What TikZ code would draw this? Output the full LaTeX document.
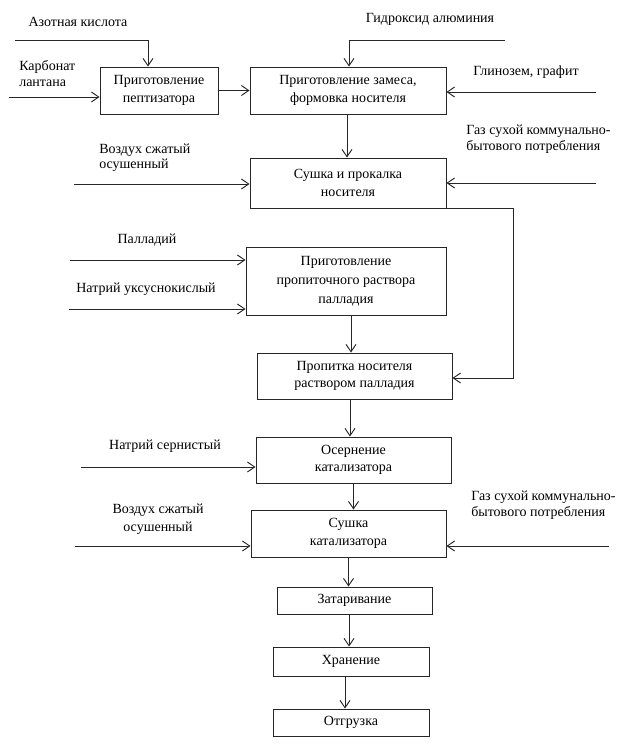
\documentclass[tikz,border=0pt]{standalone}
\usepackage{fontspec}
\setmainfont{Liberation Serif}
\usetikzlibrary{arrows.meta}
\begin{document}
\begin{tikzpicture}[x=0.75pt,y=-0.75pt,
  every node/.style={font=\fontsize{10.5}{12}\selectfont, inner sep=0pt},
  box/.style={draw=black!85, line width=0.7pt, align=center,
    font=\fontsize{10.5}{13}\selectfont},
  lbl/.style={align=center},
  lbll/.style={align=left, anchor=west},
  arr/.style={draw=black!85, line width=0.7pt,
    -{Straight Barb[length=5.5pt,width=7.5pt,line width=0.7pt]}},
  ln/.style={draw=black!85, line width=0.7pt}]
\useasboundingbox (0,0) rectangle (628,745);

% boxes
\node[box, minimum width=118*0.75pt, minimum height=47*0.75pt] (b1) at (159,90.5) {Приготовление\\пептизатора};
\node[box, minimum width=196*0.75pt, minimum height=47*0.75pt] (b2) at (348,90.5) {Приготовление замеса,\\формовка носителя};
\node[box, minimum width=196*0.75pt, minimum height=50*0.75pt] (b3) at (348,183) {Сушка и прокалка\\носителя};
\node[box, minimum width=200*0.75pt, minimum height=68*0.75pt, font=\fontsize{10.5}{14.2}\selectfont] (b4) at (346,281) {Приготовление\\пропиточного раствора\\палладия};
\node[box, minimum width=195*0.75pt, minimum height=46*0.75pt] (b5) at (354.5,376) {Пропитка носителя\\раствором палладия};
\node[box, minimum width=195*0.75pt, minimum height=46*0.75pt, font=\fontsize{10.5}{12.5}\selectfont] (b6) at (353.5,460) {Осернение\\катализатора};
\node[box, minimum width=195*0.75pt, minimum height=47*0.75pt] (b7) at (348.5,533.5) {Сушка\\катализатора};
\node[box, minimum width=155*0.75pt, minimum height=27*0.75pt] (b8) at (354.5,600.5) {Затаривание};
\node[box, minimum width=156*0.75pt, minimum height=29*0.75pt] (b9) at (351,661.5) {Хранение};
\node[box, minimum width=156*0.75pt, minimum height=27*0.75pt] (b10) at (351,722.5) {Отгрузка};

% labels
\node[lbl] (lazot) at (78,22) {Азотная кислота};
\node[lbll] (lkarb) at (19,73.5) {Карбонат\\лантана};
\node[lbl] (lgidr) at (430,19) {Гидроксид алюминия};
\node[lbl] (lglin) at (526,72) {Глинозем, графит};
\node[lbll, font=\fontsize{10.5}{11.5}\selectfont] (lvoz1) at (99,157.5) {Воздух сжатый\\осушенный};
\node[lbll] (lgaz1) at (466,139.5) {Газ сухой коммунально-\\бытового потребления};
\node[lbl] (lpall) at (147,240) {Палладий};
\node[lbl] (lnatu) at (146,289) {Натрий уксуснокислый};
\node[lbl] (lnats) at (165,446) {Натрий сернистый};
\node[lbl, font=\fontsize{10.5}{13.5}\selectfont] (lvoz2) at (158,519) {Воздух сжатый\\осушенный};
\node[lbll] (lgaz2) at (471,505) {Газ сухой коммунально-\\бытового потребления};

% input line start points
\coordinate (iazot) at (15,40);
\coordinate (ikarb) at (9,97);
\coordinate (igidr) at (505,40);
\coordinate (iglin) at (596,92);
\coordinate (ivoz1) at (74,184);
\coordinate (igaz1) at (596,183);
\coordinate (ipall) at (70,260);
\coordinate (inatu) at (69,309);
\coordinate (inats) at (81,467);
\coordinate (ivoz2) at (75,546);
\coordinate (igaz2) at (609,546);

% inputs
\draw[arr] (iazot) -| ([xshift=-8.25pt]b1.north);
\draw[arr] (ikarb) -- (ikarb -| b1.west);
\draw[arr] (igidr) -| ([xshift=0.75pt]b2.north);
\draw[arr] (iglin) -- (iglin -| b2.east);
\draw[arr] (ivoz1) -- (ivoz1 -| b3.west);
\draw[arr] (igaz1) -- (igaz1 -| b3.east);
\draw[arr] (ipall) -- (ipall -| b4.west);
\draw[arr] (inatu) -- (inatu -| b4.west);
\draw[arr] (inats) -- (inats -| b6.west);
\draw[arr] (ivoz2) -- (ivoz2 -| b7.west);
\draw[arr] (igaz2) -- (igaz2 -| b7.east);

% main flow
\draw[arr] (b1.east) -- (b2.west);
\draw[arr] ([xshift=-0.75pt]b2.south) -- ([xshift=-0.75pt]b2.south |- b3.north);
\coordinate (fb) at ([xshift=50pt]b3.south east);
\draw[arr] (b3.south east) -- (fb) |- ([yshift=-1.5pt]b5.east);
\draw[arr] ([xshift=3.75pt]b4.south) -- ([xshift=3.75pt]b4.south |- b5.north);
\draw[arr] ([xshift=-3.4pt]b5.south) -- ([xshift=-3.4pt]b5.south |- b6.north);
\draw[arr] (b6.south) -- (b6.south |- b7.north);
\draw[arr] (b7.south) -- (b7.south |- b8.north);
\draw[arr] ([xshift=-4.1pt]b8.south) -- ([xshift=-4.1pt]b8.south |- b9.north);
\draw[arr] ([xshift=-4.5pt]b9.south) -- ([xshift=-4.5pt]b9.south |- b10.north);
\end{tikzpicture}
\end{document}
